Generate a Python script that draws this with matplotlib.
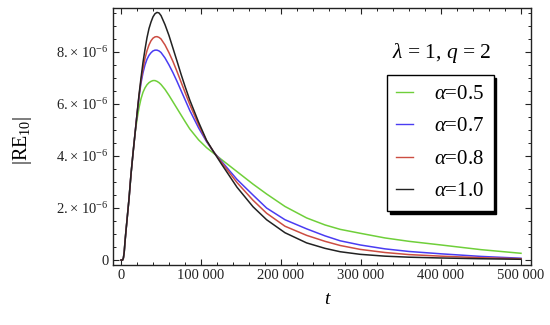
import numpy as np
import matplotlib
matplotlib.use('Agg')
import matplotlib.pyplot as plt
from matplotlib.ticker import MultipleLocator, FuncFormatter

plt.rcParams['font.family'] = ['Liberation Serif', 'DejaVu Serif']
plt.rcParams['mathtext.fontset'] = 'custom'
plt.rcParams['mathtext.rm'] = 'Liberation Serif'
plt.rcParams['mathtext.it'] = 'Liberation Serif:italic'

# values (|RE10| in units of 1e-6)
t = [0, 2000, 3000, 4000, 5000, 6000, 8000, 10000, 12500, 15000, 17500, 20000,
     22500, 25000, 27500, 30000, 32500, 35000, 37500, 40000, 42500, 45000,
     47500, 50000, 55000, 60000, 65000, 70000, 75000, 80000, 86000, 97000,
     107000, 116000, 125000, 145000, 165000, 182000, 205000, 232000, 255000,
     274000, 299000, 330000, 360000, 400000, 450000, 500000]

rise = [0, 0.0, 0.08, 0.3, 0.7, 1.05, 1.7, 2.35, 3.3, 4.1, 4.85]

re_05 = rise + [5.4, 5.85, 6.2, 6.45, 6.62, 6.74, 6.82, 6.87, 6.9, 6.9, 6.87,
                6.82, 6.75, 6.56, 6.33, 6.08, 5.83, 5.58, 5.33, 5.04, 4.62,
                4.32, 4.1, 3.88, 3.4, 2.92, 2.54, 2.06, 1.62, 1.35,
                1.18, 1.03, 0.85, 0.72, 0.58, 0.4, 0.26]
re_07 = rise + [5.6, 6.25, 6.8, 7.2, 7.5, 7.72, 7.87, 7.97, 8.04, 8.07, 8.07,
                8.04, 7.98, 7.77, 7.5, 7.2, 6.87, 6.52, 6.17, 5.75, 5.08,
                4.55, 4.15, 3.82, 3.1, 2.5, 2.0, 1.55, 1.2, 0.93,
                0.74, 0.58, 0.43, 0.33, 0.24, 0.14, 0.07]
re_08 = rise + [5.6, 6.3, 6.9, 7.35, 7.75, 8.05, 8.27, 8.43, 8.53, 8.58, 8.59,
                8.56, 8.5, 8.27, 7.97, 7.63, 7.25, 6.85, 6.45, 5.98, 5.2,
                4.58, 4.15, 3.78, 2.98, 2.3, 1.8, 1.3, 0.95, 0.72,
                0.56, 0.41, 0.29, 0.21, 0.15, 0.09, 0.05]
re_10 = rise + [5.6, 6.35, 7.0, 7.6, 8.1, 8.55, 8.9, 9.15, 9.35, 9.47, 9.52,
                9.5, 9.4, 9.05, 8.63, 8.14, 7.65, 7.15, 6.68, 6.15, 5.3,
                4.6, 4.15, 3.72, 2.8, 2.05, 1.55, 1.05, 0.66, 0.45,
                0.32, 0.22, 0.15, 0.11, 0.08, 0.05, 0.03]

labels = [r'$\alpha$=0.5', r'$\alpha$=0.7', r'$\alpha$=0.8', r'$\alpha$=1.0']
colors = ['#6fcf3a', '#4a3cf2', '#cc4d42', '#222222']

fig = plt.figure(figsize=(5.5, 3.25), dpi=100)
ax = fig.add_axes([113 / 550, 1 - 265 / 325, 418 / 550, 257 / 325])

t = np.array(t)
for vals, lab, col in zip([re_05, re_07, re_08, re_10], labels, colors):
    ax.plot(t, np.array(vals) * 1e-6, color=col, lw=1.1, label=lab)

ax.set_xlim(-10000, 512500)
ax.set_ylim(-0.19e-6, 9.69e-6)

ax.xaxis.set_major_locator(MultipleLocator(100000))
ax.xaxis.set_minor_locator(MultipleLocator(20000))
ax.yaxis.set_major_locator(MultipleLocator(2e-6))
ax.yaxis.set_minor_locator(MultipleLocator(0.5e-6))


def xfmt(v, pos):
    if abs(v) < 1:
        return '0'
    return '{:d} 000'.format(int(round(v)) // 1000)


def yfmt(v, pos):
    if abs(v) < 1e-9:
        return '0'
    return '%d.\u2009×\u200910$^{-6}$' % round(v * 1e6)


ax.xaxis.set_major_formatter(FuncFormatter(xfmt))
ax.yaxis.set_major_formatter(FuncFormatter(yfmt))

ax.tick_params(which='both', direction='in', top=True, right=True,
               labelsize=10.5, colors='#222222')
ax.tick_params(which='major', length=4, width=0.8, pad=3)
ax.tick_params(which='minor', length=2, width=0.7)
for s in ax.spines.values():
    s.set_linewidth(1.0)
    s.set_color('#222222')

fig.text(22 / 550, 1 - 140 / 325, r'$|\mathrm{RE}_{10}|$', rotation=90,
         ha='center', va='center', fontsize=14.5)
fig.text(328 / 550, 1 - 300 / 325, r'$t$', ha='center', va='center', fontsize=14)
fig.text(442 / 550, 1 - 53 / 325, r'$\lambda$ = 1, $q$ = 2', ha='center',
         va='center', fontsize=15.5)

leg = ax.legend(loc='upper left', bbox_to_anchor=(387 / 550, 1 - 75 / 325),
                bbox_transform=fig.transFigure, fontsize=15, frameon=True,
                fancybox=False, shadow={'color': 'black', 'alpha': 1.0},
                handlelength=0.8, handletextpad=1.0, labelspacing=0.62,
                borderpad=0.45, borderaxespad=0)
leg.get_frame().set_edgecolor('black')
leg.get_frame().set_linewidth(1.0)
leg.get_frame().set_alpha(1.0)
for line in leg.get_lines():
    line.set_linewidth(1.0)

fig.savefig('out.png', dpi=100)
